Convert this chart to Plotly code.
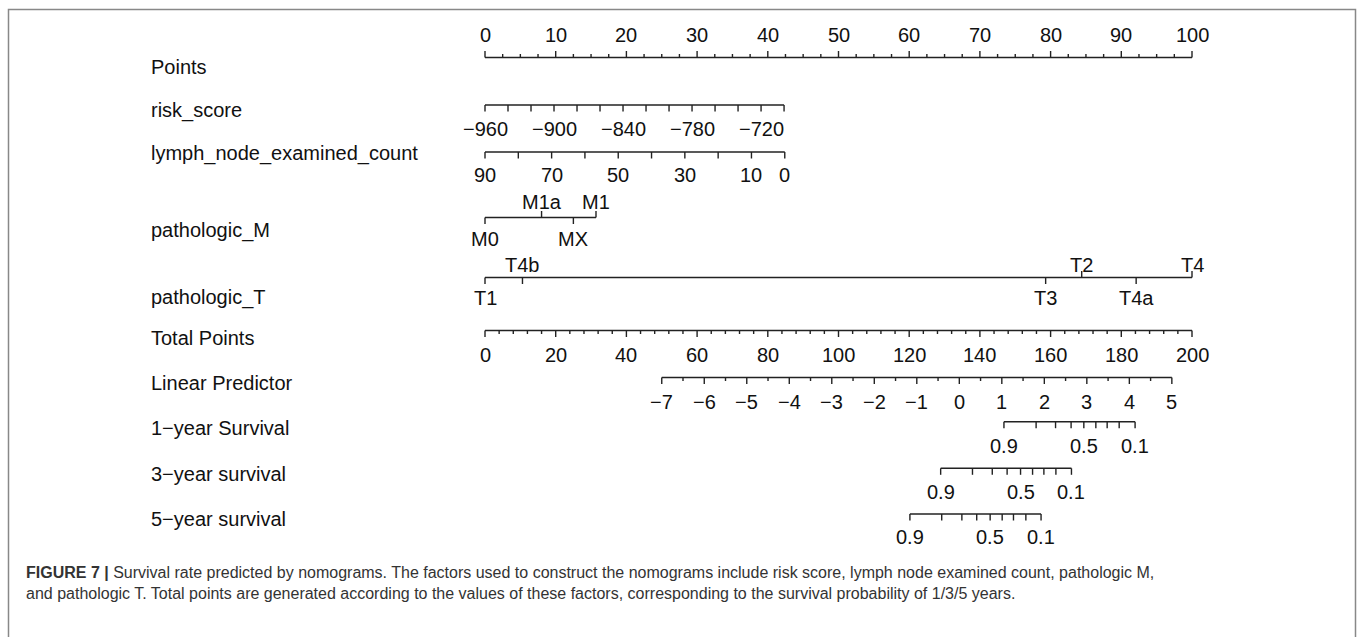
import plotly.graph_objects as go

FONT = "Liberation Sans, Arial, sans-serif"
CAP_FONT = "Liberation Sans Narrow, Liberation Sans, Arial, sans-serif"

# ---------------- data ----------------
points_major = [0, 10, 20, 30, 40, 50, 60, 70, 80, 90, 100]

risk_range = [-960, -700]          # risk_score values at both ends of its axis
risk_points = [0.0, 42.3]          # points those ends correspond to
risk_labels = [-960, -900, -840, -780, -720]

lymph_range = [90, 0]
lymph_points = [0.0, 42.4]
lymph_labels = [90, 70, 50, 30, 10, 0]

m_cats = ["M0", "M1a", "MX", "M1"]
m_points = [0.0, 8.0, 12.5, 15.7]
m_side = ["below", "above", "below", "above"]

t_cats = ["T1", "T4b", "T3", "T2", "T4a", "T4"]
t_points = [0.0, 5.3, 79.3, 84.4, 92.1, 100.0]
t_side = ["below", "above", "below", "above", "below", "above"]
t_tickdir = ["down", "down", "down", "up", "down", "up"]

total_labels = [0, 20, 40, 60, 80, 100, 120, 140, 160, 180, 200]

lp_range = [-7, 5]
lp_total = [50.0, 194.3]           # total points at LP = -7 and LP = 5

surv_probs = [0.9, 0.8, 0.7, 0.6, 0.5, 0.4, 0.3, 0.2, 0.1]
surv_labeled = [0.9, 0.5, 0.1]
surv1_total = [146.8, 155.9, 161.4, 165.8, 169.4, 172.8, 176.0, 179.4, 183.9]
surv3_total = [128.9, 137.9, 143.5, 147.7, 151.5, 154.9, 158.1, 161.5, 165.9]
surv5_total = [120.2, 129.2, 134.9, 139.1, 142.9, 146.3, 149.5, 153.0, 157.3]

row_names = ["Points", "risk_score", "lymph_node_examined_count", "pathologic_M",
             "pathologic_T", "Total Points", "Linear Predictor",
             "1\u2212year Survival", "3\u2212year survival", "5\u2212year survival"]

# ---------------- layout constants ----------------
W, H = 1357, 637
PX0, PX100 = 485.0, 1192.0               # pixel x of 0 and 100 points
SCALE = (PX100 - PX0) / 100.0
XR = [-PX0 / SCALE, (W - PX0) / SCALE]
LABEL_X = (148.5 - PX0) / SCALE
FS = 20

ROW_LABEL_Y = [67, 110, 153, 230, 297, 338, 383, 428, 474, 519]
LINE_Y = dict(points=57.5, risk=105, lymph=152, M=217.5, T=277.5,
              total=330.5, lp=377.5, s1=421.7, s3=468.3, s5=514)
TL = 6.5
TS = 3.5

lx, ly = [], []
ann = []


def seg(x0, x1, y):
    lx.extend([x0, x1, None]); ly.extend([y, y, None])


def tick(x, y, length, up=False):
    lx.extend([x, x, None]); ly.extend([y, y - length if up else y + length, None])


def text(x, y, s, size=FS):
    ann.append(dict(x=x, y=y, xref="x", yref="y", text=s, showarrow=False,
                    xanchor="center", yanchor="middle",
                    font=dict(family=FONT, size=size, color="#111")))


def fmt(v):
    s = f"{v:g}"
    return s.replace("-", "\u2212")


def lin(v, vr, pr):
    return pr[0] + (v - vr[0]) / (vr[1] - vr[0]) * (pr[1] - pr[0])


# Points axis (ticks up, labels above)
y = LINE_Y["points"]
seg(0, 100, y)
for k in range(0, 41):
    p = k * 2.5
    major = p in points_major
    tick(p, y, TL if major else TS, up=True)
for p in points_major:
    text(p, 35, fmt(p))

# risk_score
y = LINE_Y["risk"]
seg(lin(risk_range[0], risk_range, risk_points), lin(risk_range[1], risk_range, risk_points), y)
for v in range(risk_range[0], risk_range[1] + 1, 20):
    tick(lin(v, risk_range, risk_points), y, TL)
for v in risk_labels:
    text(lin(v, risk_range, risk_points), 128.5, fmt(v))

# lymph node examined count
y = LINE_Y["lymph"]
seg(lin(lymph_range[0], lymph_range, lymph_points), lin(lymph_range[1], lymph_range, lymph_points), y)
for v in range(lymph_range[0], lymph_range[1] - 1, -10):
    tick(lin(v, lymph_range, lymph_points), y, TL)
for v in lymph_labels:
    text(lin(v, lymph_range, lymph_points), 175, fmt(v))

# pathologic_M
y = LINE_Y["M"]
seg(min(m_points), max(m_points), y)
for c, p, s in zip(m_cats, m_points, m_side):
    tick(p, y, TL, up=(s == "above"))
    text(p, 201.5 if s == "above" else 238.5, c)

# pathologic_T
y = LINE_Y["T"]
seg(min(t_points), max(t_points), y)
for c, p, s, d in zip(t_cats, t_points, t_side, t_tickdir):
    tick(p, y, TL, up=(d == "up"))
    text(p, 264.5 if s == "above" else 298, c)

# Total points
y = LINE_Y["total"]
seg(0, 100, y)
for t in range(0, 201, 4):
    tick(t / 2.0, y, TL if t in total_labels else TS)
for t in total_labels:
    text(t / 2.0, 355, fmt(t))

# Linear predictor
y = LINE_Y["lp"]
seg(lin(lp_range[0], lp_range, lp_total) / 2, lin(lp_range[1], lp_range, lp_total) / 2, y)
for k in range(0, 25):
    v = lp_range[0] + k * 0.5
    tick(lin(v, lp_range, lp_total) / 2, y, TL if k % 2 == 0 else TS)
for v in range(lp_range[0], lp_range[1] + 1):
    text(lin(v, lp_range, lp_total) / 2, 402, fmt(v))

# Survival axes
for key, tots, laby in (("s1", surv1_total, 446), ("s3", surv3_total, 492.3), ("s5", surv5_total, 537.3)):
    y = LINE_Y[key]
    seg(min(tots) / 2, max(tots) / 2, y)
    for pr, t in zip(surv_probs, tots):
        tick(t / 2, y, TL)
        if pr in surv_labeled:
            text(t / 2, laby, fmt(pr))

# row labels
for name, yy in zip(row_names, ROW_LABEL_Y):
    ann.append(dict(x=LABEL_X, y=yy, xref="x", yref="y", text=name, showarrow=False,
                    xanchor="left", yanchor="middle",
                    font=dict(family=FONT, size=FS, color="#111")))

# caption
caption = ("<b>FIGURE 7 |</b> Survival rate predicted by nomograms. The factors used to construct the "
           "nomograms include risk score, lymph node examined count, pathologic M,<br>"
           "and pathologic T. Total points are generated according to the values of these factors, "
           "corresponding to the survival probability of 1/3/5 years.")
ann.append(dict(x=24 / W, y=583, xref="paper", yref="y", text=caption, showarrow=False,
                xanchor="left", yanchor="middle", align="left",
                font=dict(family=CAP_FONT, size=16, color="#333")))

fig = go.Figure()
fig.add_trace(go.Scatter(x=lx, y=ly, mode="lines", line=dict(color="#222", width=1.4),
                         hoverinfo="skip", showlegend=False))

fig.update_layout(
    width=W, height=H, margin=dict(l=0, r=0, t=0, b=0),
    paper_bgcolor="white", plot_bgcolor="white",
    xaxis=dict(range=XR, visible=False, fixedrange=True),
    yaxis=dict(range=[H, 0], visible=False, fixedrange=True),
    annotations=ann,
    shapes=[dict(type="rect", xref="paper", yref="y", x0=8.5 / W, x1=1355.5 / W,
                 y0=9.5, y1=H + 5, line=dict(color="#888", width=1.5))],
    showlegend=False,
)

fig.write_html("out.html")
